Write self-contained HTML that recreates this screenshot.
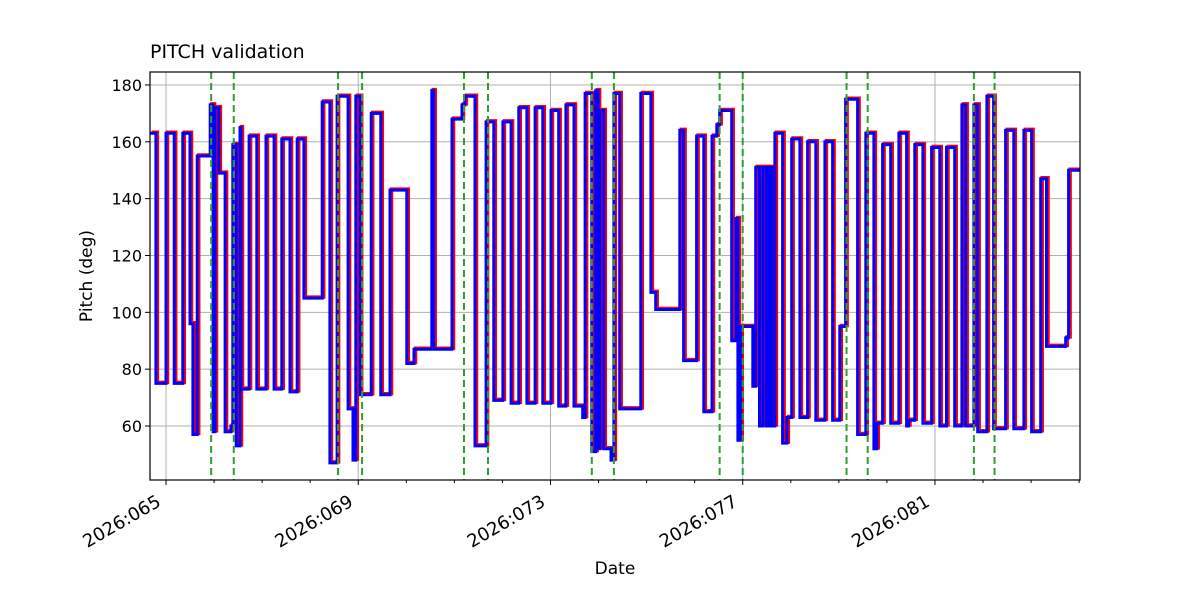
<!DOCTYPE html>
<html><head><meta charset="utf-8"><style>
body{margin:0;background:#fff}
svg{font-family:"DejaVu Sans","Liberation Sans",sans-serif}
</style></head><body>
<svg id="chart" width="1200" height="600"></svg>
<script>
const segStarts=[64.67,64.79,65.00,65.17,65.35,65.50,65.56,65.65,65.92,65.98,66.02,66.10,66.23,66.35,66.39,66.46,66.54,66.56,66.73,66.89,67.08,67.25,67.41,67.58,67.73,67.87,68.25,68.41,68.56,68.79,68.89,68.95,69.04,69.27,69.47,69.66,70.01,70.16,70.53,70.57,70.95,71.16,71.22,71.43,71.66,71.82,72.01,72.18,72.34,72.51,72.68,72.84,73.01,73.17,73.32,73.49,73.67,73.72,73.86,73.94,73.99,74.03,74.11,74.26,74.32,74.44,74.88,75.09,75.19,75.69,75.77,76.04,76.19,76.36,76.46,76.52,76.77,76.86,76.90,76.96,77.21,77.27,77.35,77.42,77.49,77.55,77.60,77.67,77.83,77.92,78.02,78.19,78.35,78.52,78.71,78.87,79.02,79.14,79.39,79.56,79.73,79.79,79.91,80.08,80.25,80.41,80.45,80.58,80.75,80.93,81.10,81.24,81.41,81.56,81.64,81.81,81.89,82.08,82.22,82.47,82.64,82.85,83.01,83.20,83.32,83.72,83.78];
const pitchValues=[163,75,163,75,163,96,57,155,173,58,172,149,58,60,159,53,165,73,162,73,162,73,161,72,161,105,174,47,176,66,48,176,71,170,71,143,82,87,178,87,168,173,176,53,167,69,167,68,172,68,172,68,171,67,173,67,63,177,51,178,52,171,52,48,177,66,177,107,101,164,83,162,65,162,166,171,90,133,55,95,74,151,60,151,60,151,60,163,54,63,161,63,160,62,160,62,95,175,57,163,52,61,159,61,163,60,62,159,61,158,60,158,60,173,60,173,58,176,59,164,59,164,58,147,88,91,150];
const endDay=84.01;
const eventDays=[65.94,66.41,68.58,69.08,71.20,71.70,73.86,74.32,76.52,77.00,79.16,79.60,81.81,82.24];
const yTicks=[60,80,100,120,140,160,180];
const xTickDays=[65,69,73,77,81];
const xTickLabels=["2026:065","2026:069","2026:073","2026:077","2026:081"];
const L=150,R=1080,T=72,B=480;
const xs=d=>166+(d-65)*48.06;
const ys=v=>426-(v-60)*2.842;
const svg=document.getElementById('chart');
const NS='http://www.w3.org/2000/svg';
function mk(tag,attrs,parent){const e=document.createElementNS(NS,tag);for(const k in attrs)e.setAttribute(k,attrs[k]);(parent||svg).appendChild(e);return e;}
yTicks.forEach(v=>{
 const g=mk('line',{x1:L,x2:R,y1:ys(v),y2:ys(v),stroke:'#b0b0b0','stroke-width':1});
 
 
 const tk=mk('line',{x1:L-5,x2:L,y1:ys(v),y2:ys(v),stroke:'#000'});
 
 
 const t=mk('text',{x:L-8,y:ys(v)+6,'text-anchor':'end','font-size':16});
 t.textContent=v;
 
 
});
for(let d=65;d<=84;d++){
 const tk=mk('line',{x1:xs(d),x2:xs(d),y1:B,y2:B+(xTickDays.includes(d)?5:3),stroke:'#000'});
 
 
}
xTickDays.forEach((d,i)=>{
 const g=mk('line',{x1:xs(d),x2:xs(d),y1:T,y2:B,stroke:'#b0b0b0','stroke-width':1});
 
 
 const ax=xs(d)-4, ay=B+25;
 const t=mk('text',{x:ax,y:ay,'text-anchor':'end','font-size':18,transform:`rotate(-30 ${ax} ${ay})`});
 t.textContent=xTickLabels[i];
 
 
});
let dpath='';
segStarts.forEach((t,i)=>{
 const x1=xs(t),x2=xs(i+1<segStarts.length?segStarts[i+1]:endDay),y=ys(pitchValues[i]);
 dpath+=(i?'L':'M')+x1.toFixed(1)+','+y.toFixed(1)+'L'+x2.toFixed(1)+','+y.toFixed(1);
});
const clip=mk('clipPath',{id:'pc'});mk('rect',{x:L,y:T,width:R-L,height:B-T},clip);
const gclip=mk('g',{'clip-path':'url(#pc)'});
const red=mk('path',{d:dpath,fill:'none',stroke:'#ff0000','stroke-width':3.5,transform:'translate(1.5,-1)'},gclip);


const blue=mk('path',{d:dpath,fill:'none',stroke:'#0000ff','stroke-width':3},gclip);


eventDays.forEach(d=>{
 const l=mk('line',{x1:xs(d),x2:xs(d),y1:T,y2:B,stroke:'#2ca02c','stroke-width':2,'stroke-dasharray':'7,4'});
 
 
});
const fr=mk('rect',{x:L,y:T,width:R-L,height:B-T,fill:'none',stroke:'#000','stroke-width':1.2});


const ti=mk('text',{x:L,y:58,'font-size':19});ti.textContent='PITCH validation';


const yl=mk('text',{x:92,y:276,'font-size':17,'text-anchor':'middle',transform:'rotate(-90 92 276)'});yl.textContent='Pitch (deg)';


const xl=mk('text',{x:615,y:574,'font-size':17,'text-anchor':'middle'});xl.textContent='Date';


</script>
</body></html>
